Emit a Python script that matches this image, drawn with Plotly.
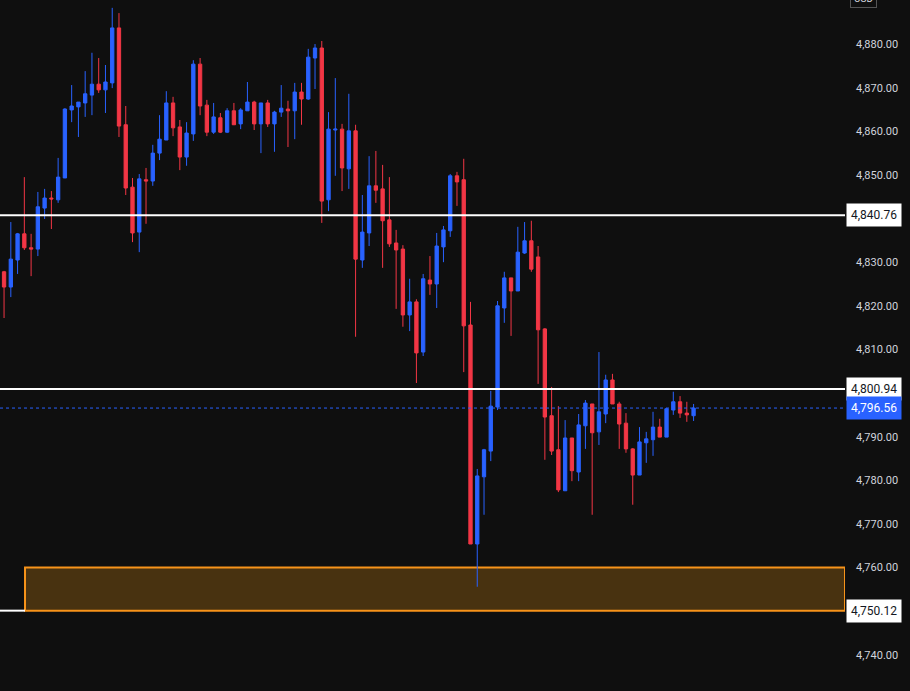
import plotly.graph_objects as go

# OHLC, oldest first
opens = [4827.8, 4824.3, 4830.5, 4836.5, 4833.3, 4833.0, 4842.4, 4844.7, 4844.3, 4849.3,
         4864.9, 4865.6, 4866.5, 4868.3, 4870.8, 4869.5, 4871.1, 4883.7, 4861.5, 4847.2,
         4836.9, 4848.9, 4848.6, 4855.0, 4858.0, 4866.5, 4861.0, 4854.1, 4859.4, 4875.4,
         4866.0, 4859.8, 4863.1, 4859.8, 4864.7, 4861.7, 4864.7, 4866.7, 4861.7, 4866.5,
         4861.7, 4864.4, 4865.1, 4864.7, 4869.0, 4867.4, 4876.8, 4879.1, 4844.3, 4860.3,
         4860.5, 4851.4, 4860.1, 4830.5, 4836.7, 4847.5, 4846.8, 4839.7, 4834.4, 4833.0,
         4817.9, 4820.9, 4809.4, 4825.9, 4825.0, 4833.5, 4837.2, 4849.8, 4848.9, 4815.6,
         4765.4, 4780.8, 4786.7, 4796.8, 4819.5, 4826.4, 4823.4, 4832.1, 4834.9, 4831.2,
         4814.7, 4794.8, 4787.0, 4777.6, 4789.7, 4781.9, 4792.5, 4797.5, 4791.1, 4795.2,
         4803.0, 4797.5, 4793.1, 4787.2, 4781.2, 4788.6, 4789.3, 4792.2, 4789.9, 4796.1,
         4798.0, 4795.4, 4794.8]
highs = [4828.0, 4839.2, 4836.7, 4849.5, 4836.5, 4846.1, 4846.8, 4846.3, 4853.9, 4865.3,
         4870.6, 4866.7, 4873.8, 4878.0, 4876.8, 4875.2, 4888.3, 4887.1, 4865.8, 4849.3,
         4850.2, 4851.6, 4856.9, 4863.7, 4869.2, 4867.9, 4862.6, 4862.1, 4876.3, 4876.8,
         4867.2, 4866.5, 4864.2, 4865.3, 4866.5, 4865.3, 4871.3, 4867.0, 4866.5, 4867.2,
         4864.7, 4870.6, 4867.0, 4871.1, 4871.1, 4878.9, 4880.0, 4880.7, 4864.4, 4872.2,
         4861.7, 4868.6, 4861.5, 4845.4, 4854.3, 4855.5, 4852.3, 4849.5, 4837.4, 4833.9,
         4826.2, 4821.5, 4827.3, 4831.4, 4836.7, 4838.3, 4850.2, 4850.7, 4853.7, 4820.9,
         4782.6, 4787.2, 4800.5, 4821.1, 4827.8, 4826.4, 4838.1, 4839.2, 4839.5, 4833.7,
         4814.9, 4801.4, 4797.0, 4793.8, 4789.7, 4795.2, 4798.4, 4797.5, 4809.4, 4804.2,
         4804.4, 4798.0, 4795.4, 4787.4, 4792.2, 4791.1, 4795.7, 4794.1, 4796.6, 4800.3,
         4799.3, 4798.0, 4797.5]
lows = [4817.2, 4822.0, 4827.3, 4832.8, 4826.8, 4831.4, 4839.9, 4837.6, 4843.6, 4849.3,
        4862.1, 4858.7, 4863.3, 4863.7, 4868.8, 4864.2, 4869.9, 4858.7, 4845.4, 4834.6,
        4832.3, 4838.8, 4847.5, 4853.4, 4858.0, 4858.9, 4851.1, 4852.1, 4857.8, 4863.7,
        4858.9, 4859.4, 4859.6, 4859.6, 4861.5, 4860.5, 4864.7, 4860.3, 4855.0, 4861.0,
        4855.3, 4863.3, 4856.4, 4858.2, 4861.5, 4867.2, 4869.7, 4839.0, 4841.7, 4849.8,
        4846.3, 4846.8, 4812.9, 4828.7, 4833.7, 4843.6, 4828.7, 4833.5, 4819.3, 4815.2,
        4814.2, 4802.3, 4808.5, 4822.5, 4819.5, 4830.0, 4835.8, 4842.9, 4804.8, 4765.4,
        4755.6, 4772.1, 4784.4, 4796.1, 4816.1, 4813.1, 4823.4, 4831.9, 4827.8, 4802.1,
        4784.7, 4785.8, 4777.3, 4777.6, 4779.8, 4779.8, 4787.2, 4772.1, 4788.1, 4793.1,
        4797.5, 4787.2, 4786.3, 4774.4, 4781.2, 4784.0, 4785.6, 4789.9, 4789.9, 4795.0,
        4794.3, 4793.4, 4793.6]
closes = [4824.3, 4830.7, 4836.5, 4833.3, 4833.0, 4842.7, 4844.7, 4844.5, 4849.5, 4865.1,
          4865.8, 4866.7, 4868.6, 4870.8, 4869.5, 4871.3, 4883.7, 4861.2, 4847.0, 4836.7,
          4849.1, 4848.6, 4855.0, 4858.2, 4866.5, 4860.8, 4854.1, 4859.6, 4875.4, 4865.8,
          4859.8, 4863.3, 4859.8, 4864.7, 4861.5, 4864.9, 4866.7, 4861.7, 4866.5, 4861.7,
          4864.4, 4865.3, 4864.7, 4869.0, 4867.4, 4877.0, 4879.1, 4844.0, 4860.5, 4860.5,
          4851.6, 4860.1, 4830.7, 4836.9, 4847.5, 4846.5, 4839.5, 4834.2, 4832.8, 4817.9,
          4820.9, 4809.2, 4826.2, 4825.0, 4833.7, 4837.4, 4849.8, 4848.4, 4815.4, 4765.4,
          4781.0, 4787.0, 4797.0, 4820.0, 4826.4, 4823.4, 4832.3, 4834.9, 4828.4, 4814.5,
          4794.5, 4786.7, 4777.8, 4789.7, 4782.2, 4792.7, 4797.7, 4790.9, 4795.7, 4803.0,
          4797.5, 4792.9, 4787.2, 4781.2, 4788.8, 4789.5, 4792.2, 4789.9, 4796.4, 4798.0,
          4795.4, 4795.0, 4796.56]
bars = list(range(len(opens)))

# horizontal levels and the demand zone
levels = [4840.76, 4800.94]
zone_low, zone_high = 4750.12, 4760.0
last_price = closes[-1]

BG = "#0f0f0f"
UP = "#2962ff"
DOWN = "#f23645"

fig = go.Figure(go.Candlestick(
    x=bars, open=opens, high=highs, low=lows, close=closes,
    increasing=dict(line=dict(color=UP, width=1), fillcolor=UP),
    decreasing=dict(line=dict(color=DOWN, width=1), fillcolor=DOWN),
    whiskerwidth=0, showlegend=False, hoverinfo="skip",
))

x_lo, x_hi = -0.6, 124.4

# zone box + white line on its bottom-left
fig.add_shape(type="line", xref="x", x0=x_lo, x1=3.1, y0=zone_low, y1=zone_low,
              line=dict(color="white", width=2))
fig.add_shape(type="rect", xref="x", x0=3.1, x1=x_hi, y0=zone_low, y1=zone_high,
              fillcolor="rgba(243,156,18,0.25)", line=dict(color="#f7931a", width=2), layer="below")

for lv in levels:
    fig.add_shape(type="line", xref="paper", x0=0, x1=1, y0=lv, y1=lv,
                  line=dict(color="white", width=2))

fig.add_shape(type="line", xref="paper", x0=0, x1=1, y0=last_price, y1=last_price,
              line=dict(color=UP, width=1, dash="dot"))

# price tags on the axis
def tag(val, bg, fg):
    fig.add_annotation(xref="paper", x=1, xanchor="left", xshift=1, y=val, yanchor="middle",
                       text=f"{val:,.2f}", showarrow=False, bgcolor=bg, borderpad=4,
                       font=dict(color=fg, size=12, family="Roboto"))

for lv in levels + [zone_low]:
    tag(lv, "white", "#131722")
tag(last_price, UP, "white")

fig.add_annotation(xref="paper", yref="paper", x=1, xanchor="left", xshift=5, y=1, yanchor="bottom",
                   yshift=-8, text="USD", showarrow=False, bordercolor="#555", borderwidth=1,
                   borderpad=3, bgcolor=BG, font=dict(color="#d1d4dc", size=10, family="Roboto"))

fig.update_layout(
    width=910, height=691, margin=dict(l=0, r=65, t=0, b=0),
    paper_bgcolor=BG, plot_bgcolor=BG,
    xaxis=dict(range=[x_lo, x_hi], visible=False, rangeslider=dict(visible=False)),
    yaxis=dict(range=[4731.7, 4890.1], side="right", showgrid=False, zeroline=False,
               tickvals=list(range(4740, 4881, 10)), tickformat=",.2f",
               tickfont=dict(color="#d1d4dc", size=11, family="Roboto"), ticks="", ticklabelstandoff=10),
)

fig.write_html("out.html", config={"displayModeBar": False},
               post_script="document.body.style.margin='0';document.body.style.background='#0f0f0f';document.body.style.overflow='hidden';")
